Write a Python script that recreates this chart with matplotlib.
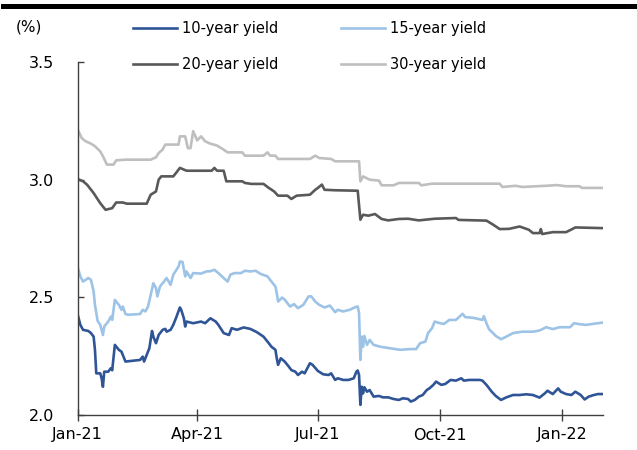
import matplotlib
matplotlib.use("Agg")
import matplotlib.pyplot as plt
import matplotlib.dates as mdates
from matplotlib.lines import Line2D
import pandas as pd

plt.rcParams['font.family'] = ['DejaVu Sans']

# ---------------- data ----------------
dates_30y = ["2021-01-01","2021-01-04","2021-01-07","2021-01-11","2021-01-14","2021-01-18","2021-01-20",
             "2021-01-23","2021-01-28","2021-01-30","2021-02-06","2021-02-25","2021-03-01","2021-03-03",
             "2021-03-06","2021-03-08","2021-03-18","2021-03-19","2021-03-23","2021-03-25","2021-03-27",
             "2021-03-29","2021-04-01","2021-04-04","2021-04-07","2021-04-11","2021-04-16","2021-04-20",
             "2021-04-24","2021-05-05","2021-05-07","2021-05-21","2021-05-24","2021-05-26","2021-05-30",
             "2021-06-01","2021-06-25","2021-06-29","2021-07-02","2021-07-11","2021-07-14","2021-08-01",
             "2021-08-02","2021-08-04","2021-08-09","2021-08-16","2021-08-18","2021-08-27","2021-08-31",
             "2021-09-15","2021-09-17","2021-09-25","2021-11-15","2021-11-17","2021-11-27","2021-12-02",
             "2021-12-20","2021-12-28","2022-01-04","2022-01-14","2022-01-16","2022-02-01"]
yield_30y = [3.213,3.177,3.163,3.153,3.142,3.120,3.100,
             3.064,3.064,3.082,3.085,3.085,3.095,3.113,
             3.128,3.149,3.149,3.184,3.184,3.134,3.134,
             3.206,3.167,3.184,3.163,3.153,3.145,3.131,
             3.116,3.116,3.102,3.102,3.116,3.102,3.102,
             3.088,3.088,3.102,3.092,3.088,3.078,3.078,
             2.993,3.014,3.000,2.996,2.976,2.976,2.986,
             2.986,2.976,2.983,2.983,2.969,2.974,2.969,
             2.974,2.977,2.972,2.972,2.965,2.965]

dates_20y = ["2021-01-01","2021-01-05","2021-01-08","2021-01-13","2021-01-18","2021-01-22","2021-01-27",
             "2021-01-30","2021-02-04","2021-02-07","2021-02-22","2021-02-25","2021-03-01","2021-03-03",
             "2021-03-05","2021-03-14","2021-03-16","2021-03-19","2021-03-24","2021-04-12","2021-04-14",
             "2021-04-16","2021-04-21","2021-04-23","2021-05-05","2021-05-07","2021-05-12","2021-05-21",
             "2021-05-25","2021-05-29","2021-06-01","2021-06-08","2021-06-11","2021-06-15","2021-06-25",
             "2021-06-29","2021-07-01","2021-07-04","2021-07-06","2021-07-14","2021-07-31","2021-08-02",
             "2021-08-04","2021-08-08","2021-08-13","2021-08-18","2021-08-23","2021-08-31","2021-09-07",
             "2021-09-15","2021-09-27","2021-10-13","2021-10-15","2021-11-05","2021-11-10","2021-11-15",
             "2021-11-22","2021-11-30","2021-12-07","2021-12-10","2021-12-15","2021-12-16","2021-12-17",
             "2021-12-25","2022-01-04","2022-01-09","2022-01-11","2022-02-01"]
yield_20y = [3.003,2.993,2.979,2.943,2.900,2.872,2.879,
             2.903,2.903,2.898,2.898,2.936,2.950,3.000,
             3.014,3.014,3.028,3.050,3.038,3.038,3.050,
             3.038,3.038,2.993,2.993,2.986,2.982,2.982,
             2.965,2.950,2.932,2.932,2.918,2.932,2.936,
             2.957,2.965,2.979,2.957,2.955,2.953,2.830,
             2.851,2.847,2.854,2.833,2.827,2.833,2.834,
             2.827,2.834,2.837,2.829,2.826,2.809,2.790,
             2.791,2.801,2.787,2.773,2.773,2.790,2.769,
             2.777,2.777,2.791,2.797,2.794]

dates_15y = ["2021-01-01","2021-01-03","2021-01-05","2021-01-09","2021-01-11","2021-01-13","2021-01-14",
             "2021-01-16","2021-01-18","2021-01-20","2021-01-21","2021-01-24","2021-01-26","2021-01-27",
             "2021-01-29","2021-02-01","2021-02-03","2021-02-04","2021-02-06","2021-02-08","2021-02-17",
             "2021-02-19","2021-02-21","2021-02-23","2021-02-25","2021-02-27","2021-03-01","2021-03-02",
             "2021-03-04","2021-03-07","2021-03-09","2021-03-12","2021-03-14","2021-03-18","2021-03-19",
             "2021-03-21","2021-03-23","2021-03-24","2021-03-27","2021-03-29","2021-04-04","2021-04-08",
             "2021-04-11","2021-04-14","2021-04-17","2021-04-21","2021-04-24","2021-04-26","2021-04-29",
             "2021-05-04","2021-05-07","2021-05-11","2021-05-15","2021-05-19","2021-05-24","2021-05-27",
             "2021-05-30","2021-05-31","2021-06-01","2021-06-04","2021-06-06","2021-06-10","2021-06-13",
             "2021-06-16","2021-06-20","2021-06-24","2021-06-26","2021-06-29","2021-07-02","2021-07-06",
             "2021-07-10","2021-07-14","2021-07-16","2021-07-20","2021-07-25","2021-07-29","2021-07-31",
             "2021-08-01","2021-08-02","2021-08-03","2021-08-04","2021-08-05","2021-08-07","2021-08-09",
             "2021-08-12","2021-08-17","2021-08-24","2021-09-01","2021-09-08","2021-09-13","2021-09-16",
             "2021-09-20","2021-09-22","2021-09-25","2021-09-27","2021-10-01","2021-10-04","2021-10-08",
             "2021-10-13","2021-10-18","2021-10-20","2021-10-26","2021-11-02","2021-11-03","2021-11-05",
             "2021-11-07","2021-11-10","2021-11-12","2021-11-16","2021-11-20","2021-11-25","2021-12-02",
             "2021-12-10","2021-12-15","2021-12-20","2021-12-25","2021-12-30","2022-01-07","2022-01-10",
             "2022-01-14","2022-01-19","2022-01-24","2022-02-01"]
yield_15y = [2.627,2.589,2.567,2.582,2.574,2.525,2.468,
             2.400,2.383,2.340,2.376,2.397,2.418,2.404,
             2.489,2.468,2.447,2.461,2.429,2.426,2.429,
             2.447,2.440,2.461,2.510,2.560,2.539,2.504,
             2.546,2.567,2.582,2.553,2.596,2.631,2.652,
             2.650,2.589,2.610,2.582,2.603,2.601,2.610,
             2.611,2.617,2.603,2.582,2.567,2.596,2.603,
             2.603,2.613,2.610,2.613,2.599,2.589,2.567,
             2.546,2.518,2.482,2.499,2.490,2.461,2.471,
             2.454,2.468,2.504,2.504,2.482,2.468,2.457,
             2.465,2.437,2.447,2.440,2.447,2.458,2.461,
             2.433,2.234,2.333,2.290,2.336,2.298,2.319,
             2.298,2.290,2.284,2.277,2.280,2.280,2.305,
             2.312,2.348,2.369,2.397,2.390,2.387,2.404,
             2.404,2.430,2.416,2.413,2.404,2.420,2.390,
             2.364,2.348,2.336,2.322,2.333,2.348,2.354,
             2.354,2.359,2.373,2.365,2.373,2.373,2.390,
             2.386,2.383,2.387,2.393]

dates_10y = ["2021-01-01","2021-01-03","2021-01-05","2021-01-09","2021-01-11","2021-01-13","2021-01-14",
             "2021-01-15","2021-01-18","2021-01-19","2021-01-20","2021-01-21","2021-01-24","2021-01-26",
             "2021-01-27","2021-01-29","2021-02-01","2021-02-03","2021-02-06","2021-02-11","2021-02-17",
             "2021-02-19","2021-02-20","2021-02-22","2021-02-24","2021-02-26","2021-02-27","2021-03-01",
             "2021-03-03","2021-03-06","2021-03-08","2021-03-09","2021-03-12","2021-03-14","2021-03-16",
             "2021-03-19","2021-03-20","2021-03-22","2021-03-23","2021-03-24","2021-03-29","2021-04-04",
             "2021-04-07","2021-04-11","2021-04-15","2021-04-17","2021-04-21","2021-04-25","2021-04-27",
             "2021-05-01","2021-05-06","2021-05-11","2021-05-16","2021-05-21","2021-05-25","2021-05-27",
             "2021-05-30","2021-05-31","2021-06-01","2021-06-03","2021-06-06","2021-06-09","2021-06-11",
             "2021-06-14","2021-06-16","2021-06-19","2021-06-21","2021-06-25","2021-06-27","2021-07-01",
             "2021-07-05","2021-07-09","2021-07-11","2021-07-14","2021-07-16","2021-07-20","2021-07-24",
             "2021-07-28","2021-07-30","2021-07-31","2021-08-01","2021-08-02","2021-08-03","2021-08-04",
             "2021-08-05","2021-08-07","2021-08-09","2021-08-12","2021-08-16","2021-08-19","2021-08-23",
             "2021-08-27","2021-08-31","2021-09-03","2021-09-07","2021-09-09","2021-09-12","2021-09-15",
             "2021-09-18","2021-09-21","2021-09-23","2021-09-26","2021-09-28","2021-10-02","2021-10-05",
             "2021-10-09","2021-10-13","2021-10-17","2021-10-19","2021-10-23","2021-10-31","2021-11-02",
             "2021-11-05","2021-11-09","2021-11-12","2021-11-16","2021-11-20","2021-11-25","2021-11-30",
             "2021-12-05","2021-12-10","2021-12-15","2021-12-19","2021-12-21","2021-12-25","2021-12-29",
             "2021-12-31","2022-01-04","2022-01-08","2022-01-11","2022-01-15","2022-01-18","2022-01-21",
             "2022-01-25","2022-01-28","2022-02-01"]
yield_10y = [2.426,2.383,2.362,2.357,2.348,2.333,2.277,
             2.177,2.177,2.156,2.120,2.184,2.184,2.199,
             2.190,2.298,2.277,2.269,2.227,2.230,2.234,
             2.248,2.227,2.255,2.284,2.357,2.333,2.305,
             2.340,2.362,2.366,2.354,2.362,2.383,2.411,
             2.457,2.447,2.411,2.376,2.397,2.390,2.397,
             2.390,2.411,2.397,2.383,2.348,2.340,2.369,
             2.362,2.372,2.366,2.352,2.333,2.305,2.290,
             2.277,2.241,2.213,2.241,2.227,2.206,2.191,
             2.184,2.170,2.184,2.177,2.220,2.213,2.187,
             2.173,2.170,2.177,2.149,2.156,2.149,2.149,
             2.156,2.184,2.189,2.170,2.043,2.120,2.092,
             2.118,2.099,2.106,2.078,2.081,2.075,2.075,
             2.068,2.064,2.071,2.068,2.057,2.064,2.078,
             2.085,2.106,2.113,2.128,2.142,2.128,2.132,
             2.149,2.146,2.156,2.146,2.149,2.149,2.146,
             2.128,2.099,2.081,2.064,2.075,2.085,2.085,
             2.088,2.085,2.074,2.092,2.103,2.089,2.113,
             2.099,2.089,2.085,2.099,2.085,2.066,2.078,
             2.085,2.089,2.089]

series_labels = ["10-year yield", "15-year yield", "20-year yield", "30-year yield"]
series_colors = ["#2F5597", "#9DC3E6", "#595959", "#BFBFBF"]
y_ticks = [2.0, 2.5, 3.0, 3.5]
x_ticks = ["2021-01-01", "2021-04-01", "2021-07-01", "2021-10-01", "2022-01-01"]

# ---------------- figure ----------------
W, H = 637, 450
fig = plt.figure(figsize=(W / 100, H / 100), dpi=100)
ax = fig.add_axes([77.7 / W, 1 - 415 / H, (602.7 - 77.7) / W, (415 - 62) / H])

all_dates = [dates_10y, dates_15y, dates_20y, dates_30y]
all_vals = [yield_10y, yield_15y, yield_20y, yield_30y]
handles = []
for d, v, lab, col in zip(all_dates, all_vals, series_labels, series_colors):
    h, = ax.plot(pd.to_datetime(d), v, color=col, lw=1.9, label=lab, solid_joinstyle='round')
    handles.append(h)

start = pd.Timestamp("2021-01-01")
ax.set_xlim(start, start + pd.Timedelta(days=395.6))
ax.set_ylim(2.0, 3.5)
ax.set_yticks(y_ticks)
ax.yaxis.set_major_formatter(matplotlib.ticker.FormatStrFormatter('%.1f'))
ax.set_xticks(pd.to_datetime(x_ticks))
ax.xaxis.set_major_formatter(mdates.DateFormatter('%b-%y'))

for s in ['top', 'right']:
    ax.spines[s].set_visible(False)
for s in ['left', 'bottom']:
    ax.spines[s].set_color('#404040')
    ax.spines[s].set_linewidth(1.0)

ax.tick_params(axis='y', direction='in', length=4.5, width=1.0, color='#404040',
               labelsize=11.5, pad=17, labelcolor='black')
ax.tick_params(axis='x', direction='inout', length=8, width=1.0, color='#404040',
               labelsize=11.5, pad=5, labelcolor='black')

# legend: row 1 -> 10y, 15y ; row 2 -> 20y, 30y (columns filled first)
order = [0, 2, 1, 3]
leg = fig.legend([handles[i] for i in order], [series_labels[i] for i in order],
                 ncol=2, loc='upper left', bbox_to_anchor=(133 / W, 1 - 21 / H),
                 frameon=False, fontsize=10.5, handlelength=3.0, handletextpad=0.35,
                 columnspacing=4.3, labelspacing=1.45, borderpad=0, borderaxespad=0)

fig.text(16 / W, 1 - 27 / H, "(%)", fontsize=11, va='center', ha='left')

# title rule at the top
fig.add_artist(Line2D([3 / W, 1.0], [1 - 5.8 / H, 1 - 5.8 / H], lw=3.6, color='black',
                      transform=fig.transFigure))

fig.savefig("out.png", dpi=100)
